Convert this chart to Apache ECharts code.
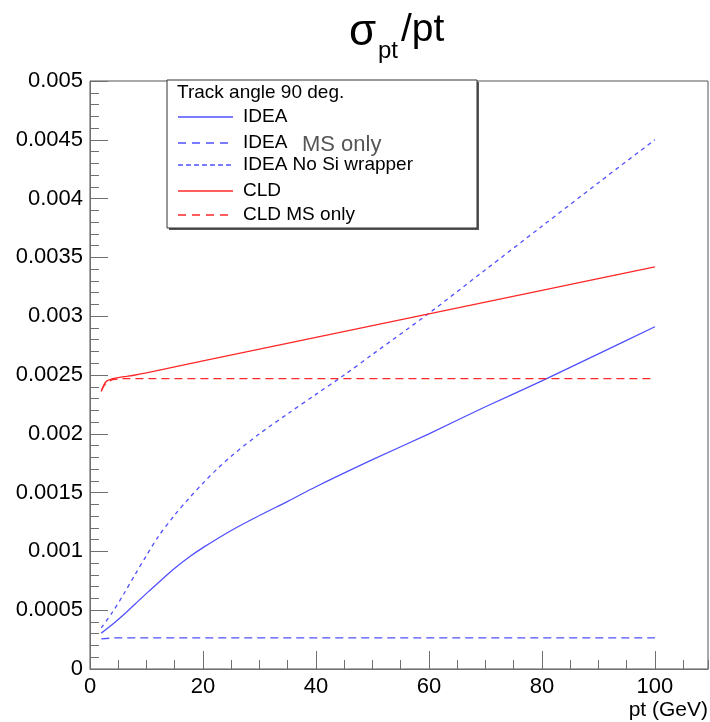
<!DOCTYPE html>
<html>
<head>
<meta charset="utf-8">
<script src="https://cdn.jsdelivr.net/npm/echarts@6/dist/echarts.min.js"></script>
<style>
  html, body { margin: 0; padding: 0; background: #ffffff; }
  #chart { width: 710px; height: 722px; }
</style>
</head>
<body>
<div id="chart"></div>
<script>
// Relative transverse-momentum resolution vs pt, track at 90 degrees

// IDEA, full resolution
const ptIdea = [2, 4, 6, 8, 10, 12, 15, 17.5, 20, 25, 30, 35, 40, 50, 60, 70, 80, 90, 100];
const ideaFull = [0.000305, 0.000380, 0.000463, 0.000553, 0.000643, 0.000730, 0.000856,
  0.000950, 0.001032, 0.001178, 0.001305, 0.001425, 0.001550, 0.001780, 0.002000, 0.002230,
  0.002450, 0.002680, 0.002910];

// IDEA, multiple-scattering term only
const ptIdeaMs = [2, 4, 10, 40, 70, 100];
const ideaMs = [0.000256, 0.000264, 0.000264, 0.000264, 0.000264, 0.000264];

// IDEA without the silicon wrapper
const ptNoSi = [2, 4, 6, 8, 10, 12, 15, 17.5, 20, 22.5, 25, 30, 35, 40, 45, 50, 60, 70, 80, 90, 100];
const ideaNoSi = [0.000350, 0.000485, 0.000640, 0.000805, 0.000965, 0.001120, 0.001310,
  0.001450, 0.001580, 0.001700, 0.001810, 0.002000, 0.002170, 0.002335, 0.002500, 0.002675,
  0.003025, 0.003395, 0.003765, 0.004135, 0.004500];

// CLD, full resolution
const ptCld = [2, 2.5, 3, 4, 5, 6, 8, 10, 20, 40, 60, 80, 100];
const cldFull = [0.002360, 0.002420, 0.002450, 0.002470, 0.002478, 0.002486, 0.002500, 0.002518,
  0.002620, 0.002820, 0.003020, 0.003220, 0.003420];

// CLD, multiple-scattering term only
const ptCldMs = [2, 2.5, 3, 4, 5, 6, 40, 100];
const cldMs = [0.002370, 0.002410, 0.002440, 0.002460, 0.002467, 0.002470, 0.002470, 0.002470];

// Axis ticks
const xMajorStep = 20;
const xMinorStep = 5;
const yMajorStep = 0.0005;

const BLUE = '#5050ff';
const RED = '#ff2828';
const FONT = '"Liberation Sans", Arial, Helvetica, sans-serif';

const pairs = (xs, ys) => xs.map((x, i) => [x, ys[i]]);

const curves = [
  { name: 'IDEA', xs: ptIdea, ys: ideaFull, color: BLUE, dash: 'solid', smooth: 0.3 },
  { name: 'IDEA MS only', xs: ptIdeaMs, ys: ideaMs, color: BLUE, dash: [8, 5], smooth: false },
  { name: 'IDEA No Si wrapper', xs: ptNoSi, ys: ideaNoSi, color: BLUE, dash: [4, 4], smooth: 0.3 },
  { name: 'CLD', xs: ptCld, ys: cldFull, color: RED, dash: 'solid', smooth: 0.2 },
  { name: 'CLD MS only', xs: ptCldMs, ys: cldMs, color: RED, dash: [8, 5], smooth: false }
];

const chart = echarts.init(document.getElementById('chart'), null, { renderer: 'canvas' });

const tickColor = '#707070';

// Legend box drawn as graphic elements
const legendLeft = 167, legendTop = 80, legendW = 310, legendH = 148;
const rowY = [117, 143, 165, 191, 215];
const legendItems = [
  { label: 'IDEA', color: BLUE, dash: null },
  { label: 'IDEA', color: BLUE, dash: [8, 6] },
  { label: 'IDEA No Si wrapper', color: BLUE, dash: [5, 3] },
  { label: 'CLD', color: RED, dash: null },
  { label: 'CLD MS only', color: RED, dash: [8, 6] }
];
const legendGraphics = [
  { type: 'rect', shape: { x: legendLeft + 2, y: legendTop + 2, width: legendW, height: legendH },
    style: { fill: '#555' }, z: 100 },
  { type: 'rect', shape: { x: legendLeft, y: legendTop, width: legendW, height: legendH },
    style: { fill: '#fff', stroke: '#333', lineWidth: 1 }, z: 101 },
  { type: 'text', x: 177, y: 93, z: 102,
    style: { text: 'Track angle 90 deg.', fill: '#000', font: '19px ' + FONT, verticalAlign: 'middle' } }
];
legendItems.forEach((it, i) => {
  legendGraphics.push({
    type: 'line', z: 102,
    shape: { x1: 178, y1: rowY[i], x2: 233, y2: rowY[i] },
    style: { stroke: it.color, lineWidth: 1.3, lineDash: it.dash }
  });
  legendGraphics.push({
    type: 'text', x: 243, y: rowY[i], z: 102,
    style: { text: it.label, fill: '#000', font: '19px ' + FONT, verticalAlign: 'middle' }
  });
});
legendGraphics.push({
  type: 'text', x: 302, y: 145, z: 102,
  style: { text: 'MS only', fill: '#555', font: '22px ' + FONT, verticalAlign: 'middle' }
});

// Title: sigma_pt / pt
const titleGraphics = [
  { type: 'text', x: 349, y: 33, style: { text: 'σ', fill: '#000', font: '44px ' + FONT, verticalAlign: 'middle' } },
  { type: 'text', x: 378, y: 51, style: { text: 'pt', fill: '#000', font: '24px ' + FONT, verticalAlign: 'middle' } },
  { type: 'text', x: 401, y: 30, style: { text: '/pt', fill: '#000', font: '39px ' + FONT, verticalAlign: 'middle' } },
  { type: 'text', x: 708, y: 710, style: { text: 'pt (GeV)', fill: '#000', font: '21px ' + FONT, align: 'right', verticalAlign: 'middle' } }
];

chart.setOption({
  animation: false,
  backgroundColor: '#ffffff',
  grid: {
    left: 90, right: 2, top: 81, bottom: 53,
    show: true, borderColor: '#555', borderWidth: 1, backgroundColor: 'transparent'
  },
  xAxis: [
    {
      type: 'value', min: 0, max: 109.4, interval: xMajorStep, position: 'bottom',
      axisLine: { show: true, onZero: false, lineStyle: { color: tickColor, width: 1 } },
      axisTick: { show: true, inside: true, length: 18, lineStyle: { color: tickColor } },
      minorTick: { show: false },
      splitLine: { show: false },
      axisLabel: { show: true, color: '#000', fontSize: 22, fontFamily: FONT, margin: 7,
        showMaxLabel: false, formatter: v => (v % xMajorStep === 0 ? String(v) : '') }
    },
    {
      type: 'value', min: 0, max: 109.4, interval: xMinorStep, position: 'bottom',
      axisLine: { show: false, onZero: false },
      axisTick: { show: true, inside: true, length: 9, lineStyle: { color: tickColor } },
      splitLine: { show: false },
      axisLabel: { show: false }
    }
  ],
  yAxis: {
    type: 'value', min: 0, max: 0.005, interval: yMajorStep,
    axisLine: { show: true, onZero: false, lineStyle: { color: tickColor, width: 1 } },
    axisTick: { show: true, inside: true, length: 18, lineStyle: { color: tickColor } },
    minorTick: { show: true, splitNumber: 5, length: 9, lineStyle: { color: tickColor } },
    splitLine: { show: false },
    axisLabel: { color: '#000', fontSize: 22, fontFamily: FONT, margin: 7 }
  },
  series: curves.map(c => ({
    name: c.name,
    type: 'line',
    xAxisIndex: 0,
    data: pairs(c.xs, c.ys),
    showSymbol: false,
    symbol: 'none',
    smooth: c.smooth,
    lineStyle: { color: c.color, width: 1.3, type: c.dash },
    z: 5
  })),
  graphic: { elements: legendGraphics.concat(titleGraphics) }
});
</script>
</body>
</html>
